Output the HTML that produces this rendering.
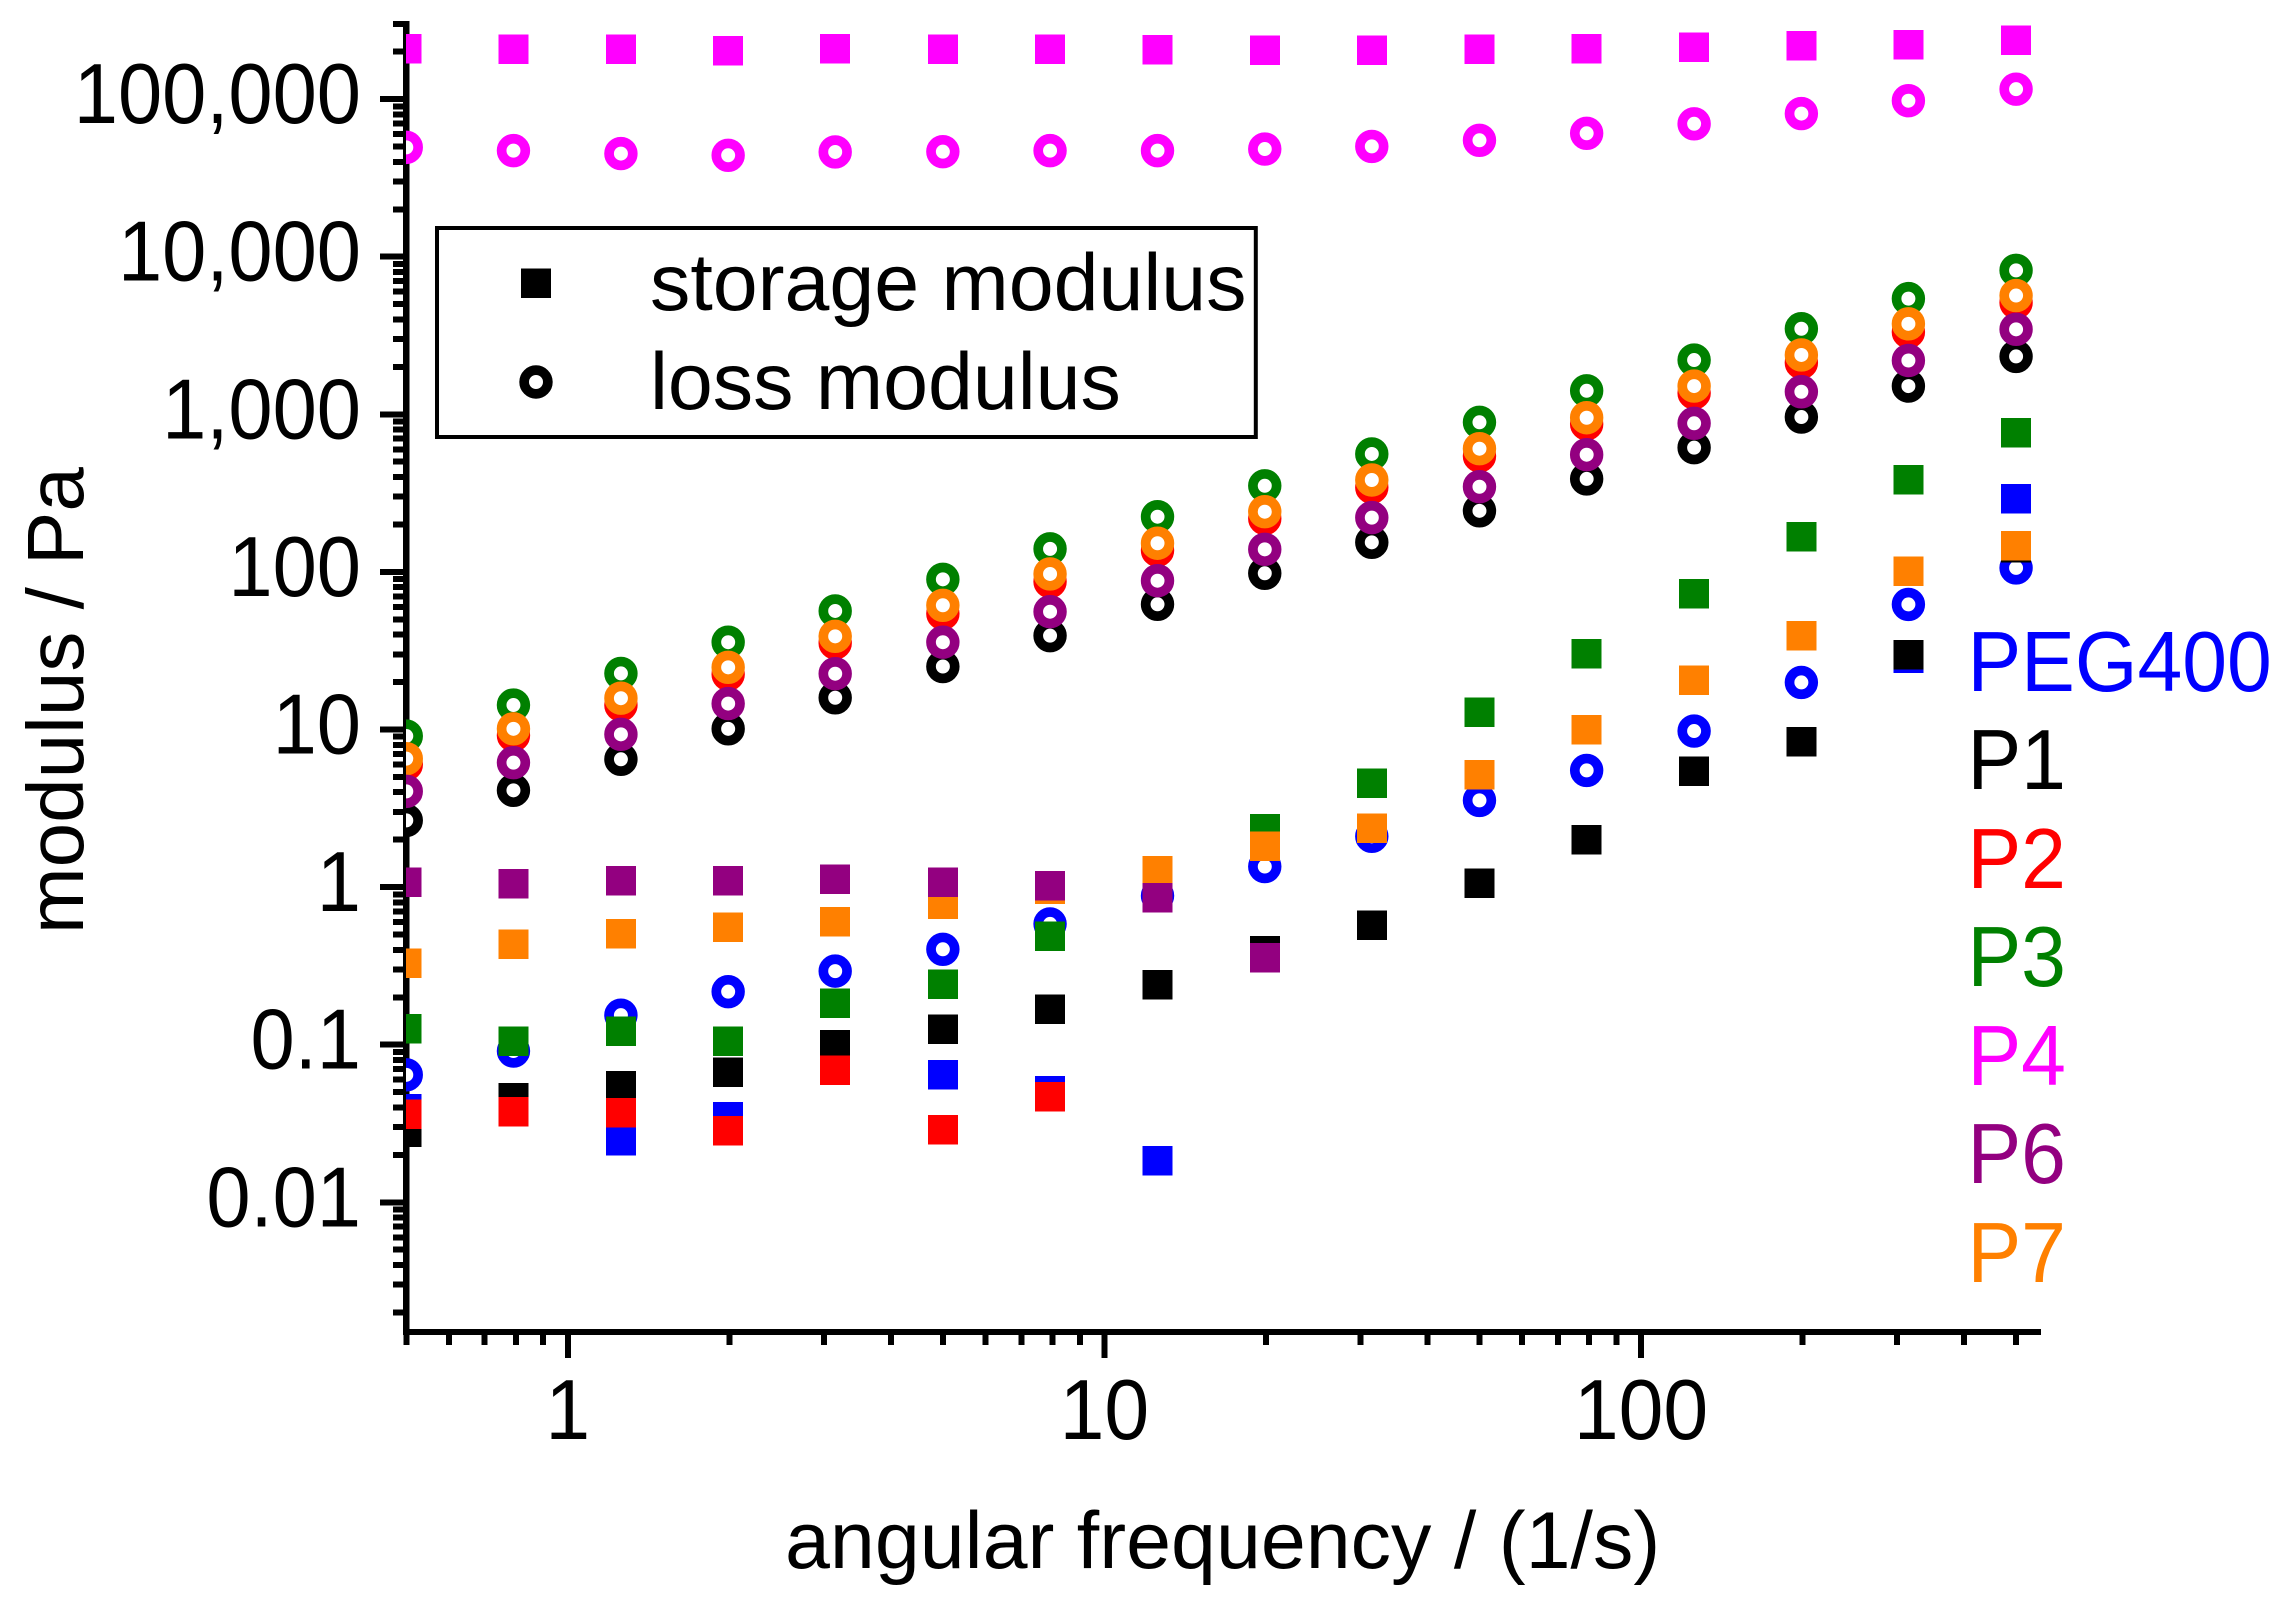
<!DOCTYPE html>
<html lang="en">
<head>
<meta charset="utf-8">
<title>Storage and loss modulus vs angular frequency</title>
<style>
html,body{margin:0;padding:0;background:#fff;width:2284px;height:1600px;overflow:hidden}
svg{display:block}
text{font-family:"Liberation Sans",Arial,sans-serif;fill:#000}
</style>
</head>
<body>
<svg id="chart" xmlns="http://www.w3.org/2000/svg" width="2284" height="1600" viewBox="0 0 2284 1600">
  <defs>
    <clipPath id="plot-clip"><rect x="406" y="0" width="1878" height="1600"/></clipPath>
  </defs>
  <rect x="0" y="0" width="2284" height="1600" fill="#fff"/>
  <g id="axes"></g>
  <g id="marks" clip-path="url(#plot-clip)"></g>

  <text transform="translate(83,934) rotate(-90)" font-size="80">modulus / Pa</text>
  <text x="785" y="1568" font-size="80.75">angular frequency / (1/s)</text>

  <g>
    <rect x="437" y="228" width="818.8" height="209" fill="#fff" stroke="#000" stroke-width="4"/>
    <rect x="521" y="268.5" width="30" height="29.5" fill="#000" shape-rendering="crispEdges"/>
    <circle cx="536" cy="382" r="11.85" fill="#fff" stroke="#000" stroke-width="9.7"/>
    <text x="650" y="310" font-size="80.7">storage modulus</text>
    <text x="650" y="409" font-size="80.7">loss modulus</text>
  </g>

  <g font-size="85">
    <text transform="translate(1967.5,691) scale(0.947,1)" style="fill:#0000ff">PEG400</text>
    <text transform="translate(1967.5,789) scale(0.947,1)" style="fill:#000000">P1</text>
    <text transform="translate(1967.5,888) scale(0.947,1)" style="fill:#ff0000">P2</text>
    <text transform="translate(1967.5,986) scale(0.947,1)" style="fill:#008000">P3</text>
    <text transform="translate(1967.5,1085) scale(0.947,1)" style="fill:#ff00ff">P4</text>
    <text transform="translate(1967.5,1183) scale(0.947,1)" style="fill:#930080">P6</text>
    <text transform="translate(1967.5,1282) scale(0.947,1)" style="fill:#ff8000">P7</text>
  </g>
</svg>
<script>
// ---- Data ----
const frequencies = [0.5, 0.792, 1.256, 1.99, 3.15, 5, 7.92, 12.56, 19.9, 31.5, 50, 79.2, 125.6, 199, 315, 500];

const peg400Storage = [0.0392, 0.0446, 0.0245, 0.0349, 0.0686, 0.0644, 0.0511, 0.0183, null, null, null, null, null, null, 28.3, 292];
const peg400Loss = [0.0644, 0.0912, 0.154, 0.217, 0.293, 0.403, 0.584, 0.882, 1.35, 2.1, 3.55, 5.5, 9.78, 19.9, 62.2, 106];
const p1Storage = [0.0278, 0.0459, 0.0549, 0.0667, 0.1, 0.125, 0.168, 0.24, 0.396, 0.571, 1.06, 2, 5.42, 8.39, 29.7, 142];
const p1Loss = [2.65, 4.11, 6.47, 10.1, 15.9, 25.1, 39.4, 62.3, 98, 154, 244, 389, 614, 961, 1510, 2330];
const p2Storage = [0.0362, 0.0376, 0.0371, 0.0285, 0.0686, 0.0288, 0.0466, null, null, null, null, null, null, null, null, null];
const p2Loss = [6, 9.18, 14.3, 22.4, 35.4, 54.4, 86.7, 137, 218, 344, 544, 868, 1365, 2125, 3330, 5110];
const p3Storage = [0.126, 0.105, 0.122, 0.105, 0.183, 0.242, 0.487, 1.03, 2.35, 4.56, 12.9, 30.3, 72.5, 167, 385, 764];
const p3Loss = [9.09, 14.3, 22.7, 35.8, 56.5, 89.7, 140, 224, 352, 560, 890, 1410, 2210, 3490, 5420, 8190];
const p4Storage = [208000, 207000, 207000, 202000, 208000, 207000, 207000, 206000, 204000, 204000, 207000, 209000, 213000, 218000, 222000, 237000];
const p4Loss = [49400, 47100, 45100, 44000, 46200, 46400, 47100, 47100, 48200, 50100, 54800, 60700, 69700, 80900, 97700, 115600];
const p7Storage = [0.328, 0.433, 0.506, 0.555, 0.604, 0.78, 0.966, 1.27, 1.81, 2.36, 5.18, 10, 20.5, 39.3, 101, 147];
const p7Loss = [6.53, 10.1, 15.8, 24.8, 39, 61.4, 97, 152, 241, 383, 605, 951, 1510, 2380, 3750, 5670];
const p6Storage = [1.07, 1.05, 1.1, 1.1, 1.12, 1.07, 1.02, 0.859, 0.356, null, null, null, null, null, null, null];
const p6Loss = [4.05, 6.16, 9.32, 14.6, 22.6, 35.8, 55.9, 87.9, 139, 221, 347, 554, 877, 1390, 2195, 3460];

const xTickValues = [1, 10, 100];
const xTickLabels = ["1", "10", "100"];
const yTickValues = [0.01, 0.1, 1, 10, 100, 1000, 10000, 100000];
const yTickLabels = ["0.01", "0.1", "1", "10", "100", "1,000", "10,000", "100,000"];
const xMinorDecades = [0.1, 1, 10, 100];
const yMinorDecades = [0.001, 0.01, 0.1, 1, 10, 100, 1000, 10000, 100000];
const minorMultiples = [2, 3, 4, 5, 6, 7, 8, 9];

// ---- Axis functions ----
const X_AT_ONE = 567.8, X_PER_DECADE = 536.6;
const Y_AT_ONE = 887.1, Y_PER_DECADE = 157.6;
function xScale(v) { return X_AT_ONE + X_PER_DECADE * Math.log10(v); }
function yScale(v) { return Y_AT_ONE - Y_PER_DECADE * Math.log10(v); }

const NS = "http://www.w3.org/2000/svg";
const axes = document.getElementById("axes");
const marks = document.getElementById("marks");

function line(parent, x1, y1, x2, y2, w) {
  const el = document.createElementNS(NS, "line");
  el.setAttribute("x1", x1);
  el.setAttribute("y1", y1);
  el.setAttribute("x2", x2);
  el.setAttribute("y2", y2);
  el.setAttribute("stroke", "#000");
  el.setAttribute("stroke-width", w);
  el.setAttribute("shape-rendering", "crispEdges");
  parent.appendChild(el);
  return el;
}

// ---- Axis lines ----
const AXIS_LEFT = 406.3, AXIS_BOTTOM = 1332, AXIS_TOP = 21, AXIS_RIGHT = 2041;
const yAxisLine = line(axes, AXIS_LEFT, AXIS_TOP, AXIS_LEFT, AXIS_BOTTOM + 3, 6.5);


const xAxisLine = line(axes, AXIS_LEFT - 3, AXIS_BOTTOM, AXIS_RIGHT, AXIS_BOTTOM, 6);



// ---- Y ticks ----
yTickValues.forEach(function (v, i) {
  const y = yScale(v);
  const tick = line(axes, 380, y, 403, y, 6);
  
  
  const label = document.createElementNS(NS, "text");
  
  
  label.setAttribute("transform", "translate(361," + (y + 24) + ") scale(0.935,1)");
  label.setAttribute("text-anchor", "end");
  label.setAttribute("font-size", "85");
  label.textContent = yTickLabels[i];
  axes.appendChild(label);
});
yMinorDecades.forEach(function (d) {
  minorMultiples.forEach(function (m) {
    const y = yScale(d * m);
    if (y < AXIS_TOP || y > AXIS_BOTTOM) return;
    const tick = line(axes, 393, y, 403, y, 6);
    
    
  });
});

// ---- X ticks ----
xTickValues.forEach(function (v, i) {
  const x = xScale(v);
  const tick = line(axes, x, 1335, x, 1358, 6);
  
  
  const label = document.createElementNS(NS, "text");
  
  
  label.setAttribute("transform", "translate(" + x + ",1439) scale(0.947,1)");
  label.setAttribute("text-anchor", "middle");
  label.setAttribute("font-size", "85");
  label.textContent = xTickLabels[i];
  axes.appendChild(label);
});
xMinorDecades.forEach(function (d) {
  minorMultiples.forEach(function (m) {
    const v = d * m;
    if (v < 0.49 || v > 510) return;
    const x = xScale(v);
    const tick = line(axes, x, 1335, x, 1345, 6);
    
    
  });
});

// ---- Marks ----
function drawSquares(values, color, name) {
  values.forEach(function (v, i) {
    if (v === null) return;
    const el = document.createElementNS(NS, "rect");
    
    
    el.setAttribute("x", xScale(frequencies[i]) - 15);
    el.setAttribute("y", yScale(v) - 14.75);
    el.setAttribute("width", 30);
    el.setAttribute("height", 29.5);
    el.setAttribute("fill", color);
    el.setAttribute("shape-rendering", "crispEdges");
    marks.appendChild(el);
  });
}
function drawRings(values, color, name) {
  values.forEach(function (v, i) {
    if (v === null) return;
    const el = document.createElementNS(NS, "circle");
    
    
    el.setAttribute("cx", xScale(frequencies[i]));
    el.setAttribute("cy", yScale(v));
    el.setAttribute("r", 11.85);
    el.setAttribute("fill", "#fff");
    el.setAttribute("stroke", color);
    el.setAttribute("stroke-width", 9.7);
    marks.appendChild(el);
  });
}

drawSquares(peg400Storage, "#0000ff", "peg400-storage-point");
drawRings(peg400Loss, "#0000ff", "peg400-loss-point");
drawSquares(p1Storage, "#000000", "p1-storage-point");
drawRings(p1Loss, "#000000", "p1-loss-point");
drawSquares(p2Storage, "#ff0000", "p2-storage-point");
drawRings(p2Loss, "#ff0000", "p2-loss-point");
drawSquares(p3Storage, "#008000", "p3-storage-point");
drawRings(p3Loss, "#008000", "p3-loss-point");
drawSquares(p4Storage, "#ff00ff", "p4-storage-point");
drawRings(p4Loss, "#ff00ff", "p4-loss-point");
drawSquares(p7Storage, "#ff8000", "p7-storage-point");
drawRings(p7Loss, "#ff8000", "p7-loss-point");
drawSquares(p6Storage, "#930080", "p6-storage-point");
drawRings(p6Loss, "#930080", "p6-loss-point");
</script>
</body>
</html>
